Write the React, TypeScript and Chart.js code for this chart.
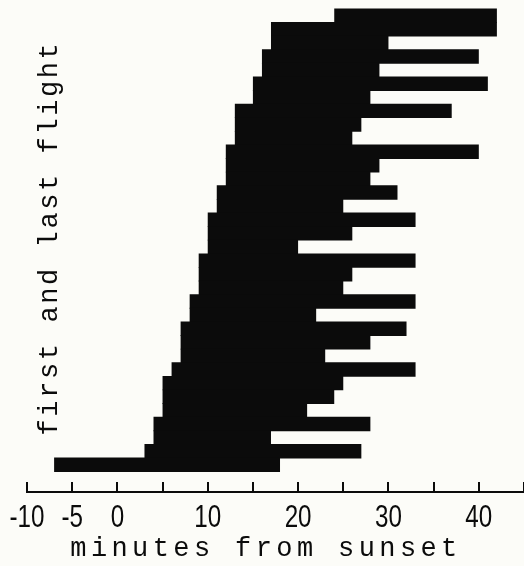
import React, { useEffect, useRef } from 'react';
import { Chart, registerables } from 'chart.js';

Chart.register(...registerables);

// rows listed from top to bottom (one per evening)
const evenings = [
  '34', '33', '32', '31', '30', '29', '28', '27', '26', '25', '24', '23', '22', '21', '20', '19', '18',
  '17', '16', '15', '14', '13', '12', '11', '10', '9', '8', '7', '6', '5', '4', '3', '2', '1',
];
const firstFlight = [24, 17, 17, 16, 16, 15, 15, 13, 13, 13, 12, 12, 12, 11, 11, 10, 10, 10, 9, 9, 9, 8, 8, 7, 7, 7, 6, 5, 5, 5, 4, 4, 3, -7];
const lastFlight = [42, 42, 30, 40, 29, 41, 28, 37, 27, 26, 40, 29, 28, 31, 25, 33, 26, 20, 33, 26, 25, 33, 22, 32, 28, 23, 33, 25, 24, 21, 28, 17, 27, 18];
const xTickLabels = [-10, -5, 0, 10, 20, 30, 40];
const xTitle = 'minutes from sunset';
const yTitle = 'first and last flight';

const INK = '#0b0b0b';

const axisText = {
  id: 'axisText',
  afterDraw(chart: any) {
    const ctx = chart.ctx as CanvasRenderingContext2D;
    const xs = chart.scales.x;
    const area = chart.chartArea;
    ctx.save();
    ctx.fillStyle = INK;
    // tick labels (condensed lettering)
    ctx.font = '31px "Liberation Sans", Arial, sans-serif';
    ctx.textAlign = 'center';
    ctx.textBaseline = 'alphabetic';
    xs.ticks.forEach((t: any) => {
      if (!xTickLabels.includes(t.value)) return;
      const px = xs.getPixelForValue(t.value);
      ctx.save();
      ctx.translate(px, xs.top + 35);
      ctx.scale(0.78, 1);
      ctx.fillText(String(t.value), 0, 0);
      ctx.restore();
    });
    // axis titles
    ctx.font = '27px "Liberation Mono", "DejaVu Sans Mono", monospace';
    (ctx as any).letterSpacing = '4.4px';
    ctx.fillText(xTitle, chart.width / 2 + 4, chart.height - 10);
    (ctx as any).letterSpacing = '2.6px';
    ctx.translate(57, (area.top + area.bottom) / 2 - 9);
    ctx.rotate(-Math.PI / 2);
    ctx.fillText(yTitle, 0, 0);
    ctx.restore();
  },
};

export default function App() {
  const ref = useRef<HTMLCanvasElement>(null);
  useEffect(() => {
    const n = evenings.length;
    const data = firstFlight.map((s, i) => ({ x: [s, lastFlight[i]], y: n - i }));
    const chart = new Chart(ref.current as HTMLCanvasElement, {
      type: 'bar',
      data: {
        labels: evenings,
        datasets: [
          {
            label: 'flight period',
            data: data as any,
            backgroundColor: INK,
            borderWidth: 0,
            barPercentage: 1.06,
            categoryPercentage: 1,
          },
        ],
      },
      options: {
        indexAxis: 'y',
        responsive: false,
        animation: false,
        devicePixelRatio: 1,
        layout: { padding: { left: 27, right: 0, top: 2, bottom: 31 } },
        plugins: { legend: { display: false }, tooltip: { enabled: false } },
        scales: {
          y: {
            type: 'linear',
            display: false,
            min: -1,
            max: 35,
            offset: false,
          },
          x: {
            type: 'linear',
            min: -10,
            max: 45,
            offset: false,
            border: { display: true, color: INK, width: 2 },
            grid: {
              display: true,
              drawOnChartArea: false,
              drawTicks: true,
              tickLength: -10,
              color: INK,
              lineWidth: 2,
            },
            ticks: {
              display: false,
              stepSize: 5,
              autoSkip: false,
              maxRotation: 0,
            },
            afterFit: (scale: any) => {
              scale.height = 43;
              scale.paddingLeft = 0;
              scale.paddingRight = 0;
            },
          },
        },
      },
      plugins: [axisText],
    });
    return () => chart.destroy();
  }, []);
  return (
    <div style={{ position: 'absolute', left: 0, top: 0, width: 524, height: 566, background: '#fcfcf8' }}>
      <canvas ref={ref} width={524} height={566} style={{ display: 'block' }} />
    </div>
  );
}
